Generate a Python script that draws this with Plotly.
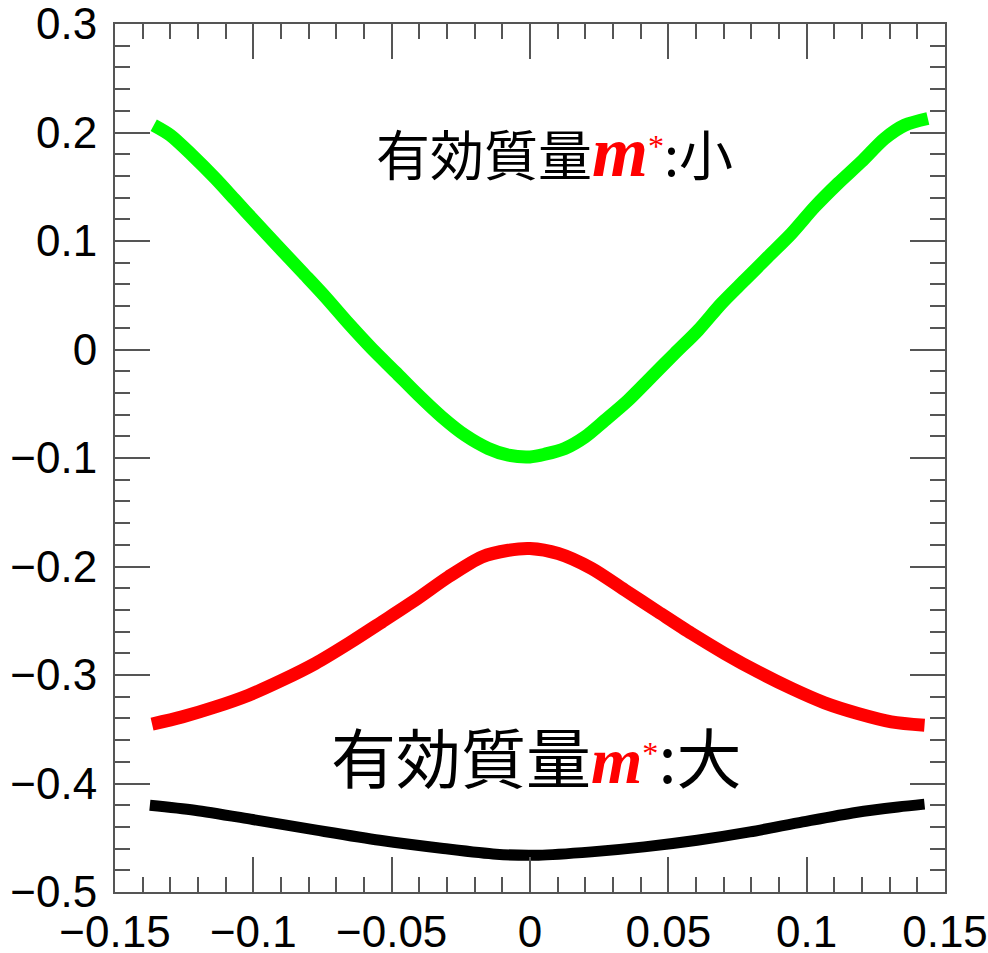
import plotly.graph_objects as go

# ---- data ----
green_x = [-0.1360, -0.1300, -0.1221, -0.1137, -0.1065, -0.0993, -0.0909, -0.0824, -0.0740,
           -0.0656, -0.0572, -0.0487, -0.0403, -0.0319, -0.0235, -0.0151, -0.0078, 0.0,
           0.0054, 0.0126, 0.0199, 0.0271, 0.0355, 0.0439, 0.0523, 0.0608, 0.0692, 0.0776,
           0.0860, 0.0945, 0.1029, 0.1113, 0.1197, 0.1282, 0.1354, 0.1438]
green_y = [0.2067, 0.1975, 0.1791, 0.1576, 0.1376, 0.1176, 0.0946, 0.0715, 0.0485,
           0.0240, 0.0009, -0.0206, -0.0421, -0.0621, -0.0790, -0.0912, -0.0974, -0.0990,
           -0.0965, -0.0912, -0.0805, -0.0652, -0.0467, -0.0252, -0.0037, 0.0178, 0.0424, 0.0639,
           0.0853, 0.1069, 0.1314, 0.1530, 0.1729, 0.1945, 0.2067, 0.2129]

red_x = [-0.1366, -0.1257, -0.1137, -0.1017, -0.0896, -0.0776, -0.0656, -0.0535, -0.0415,
         -0.0295, -0.0174, -0.0078, 0.0, 0.0102, 0.0223, 0.0343, 0.0463, 0.0584, 0.0704,
         0.0824, 0.0945, 0.1065, 0.1185, 0.1306, 0.1426]
red_y = [-0.3453, -0.3386, -0.3294, -0.3186, -0.3048, -0.2894, -0.2710, -0.2511, -0.2311,
         -0.2096, -0.1912, -0.1850, -0.1834, -0.1880, -0.2018, -0.2218, -0.2418, -0.2618, -0.2802,
         -0.2971, -0.3124, -0.3257, -0.3355, -0.3432, -0.3463]

black_x = [-0.1374, -0.1212, -0.1002, -0.0772, -0.0543, -0.0313, -0.0122, 0.0031, 0.0222,
           0.0413, 0.0604, 0.0795, 0.0986, 0.1177, 0.1330, 0.1426]
black_y = [-0.4200, -0.4246, -0.4332, -0.4430, -0.4523, -0.4599, -0.4652, -0.4661, -0.4630,
           -0.4584, -0.4523, -0.4446, -0.4354, -0.4267, -0.4216, -0.4190]

x_ticks = [-0.15, -0.1, -0.05, 0, 0.05, 0.1, 0.15]
x_ticktext = ["\u22120.15", "\u22120.1", "\u22120.05", "0", "0.05", "0.1", "0.15"]
y_ticks = [0.3, 0.2, 0.1, 0, -0.1, -0.2, -0.3, -0.4, -0.5]
y_ticktext = ["0.3", "0.2", "0.1", "0", "\u22120.1", "\u22120.2", "\u22120.3", "\u22120.4", "\u22120.5"]

label_prefix = "有効質量"
label_small = "小"
label_large = "大"

fig = go.Figure()
fig.add_trace(go.Scatter(x=green_x, y=green_y, mode="lines",
                         line=dict(color="#00ff00", width=13, shape="spline", smoothing=0.8)))
fig.add_trace(go.Scatter(x=red_x, y=red_y, mode="lines",
                         line=dict(color="#ff0000", width=13, shape="spline", smoothing=0.8)))
fig.add_trace(go.Scatter(x=black_x, y=black_y, mode="lines",
                         line=dict(color="#000000", width=11, shape="spline", smoothing=0.8)))

def mlabel(prefix, suffix, msize, starsize):
    return (prefix
            + f'<span style="color:#ff0000;font-family:\'Liberation Serif\';font-size:{msize}px"><b><i>m</i></b></span>'
            + f'<span style="color:#ff0000;font-family:\'Liberation Serif\';font-size:{starsize}px"><sup>*</sup></span>'
            + ':' + suffix)

fig.add_annotation(x=0.009, y=0.182, xref="x", yref="y", showarrow=False,
                   text=mlabel(label_prefix, label_small, 72, 46),
                   font=dict(family="Noto Sans CJK JP", size=54, color="black"))
fig.add_annotation(x=0.0025, y=-0.374, xref="x", yref="y", showarrow=False,
                   text=mlabel(label_prefix, label_large, 66, 46),
                   font=dict(family="Noto Sans CJK JP", size=65, color="black"))

axis_common = dict(
    showgrid=False, zeroline=False, showline=True, linecolor="#555555", linewidth=2,
    mirror="allticks", ticks="inside", ticklen=35, tickwidth=2, tickcolor="#555555",
    tickfont=dict(family="Liberation Sans, Arial", size=44, color="black"),
    automargin=False, ticklabeloverflow="allow",
)

fig.update_xaxes(range=[-0.15, 0.15], tickvals=x_ticks, ticktext=x_ticktext,
                 ticklabelstandoff=0,
                 minor=dict(dtick=0.01, ticks="inside", ticklen=15, tickwidth=2, tickcolor="#555555"),
                 **axis_common)
fig.update_yaxes(range=[-0.5, 0.3], tickvals=y_ticks, ticktext=y_ticktext,
                 ticklabelstandoff=7,
                 minor=dict(dtick=0.02, ticks="inside", ticklen=15, tickwidth=2, tickcolor="#555555"),
                 **axis_common)

fig.update_layout(width=988, height=953, showlegend=False,
                  margin=dict(l=115, r=43, t=24, b=61),
                  plot_bgcolor="white", paper_bgcolor="white")

fig.write_html("out.html")
